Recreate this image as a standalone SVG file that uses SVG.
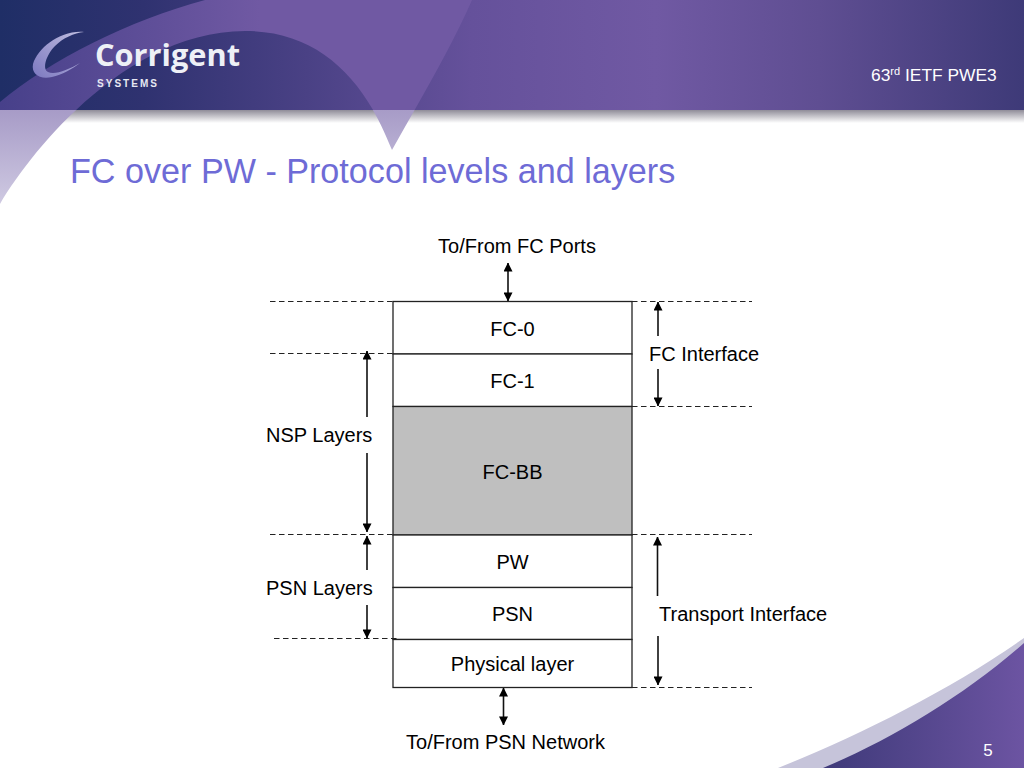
<svg xmlns="http://www.w3.org/2000/svg" width="1024" height="768" viewBox="0 0 1024 768">
<style>
text{font-family:"Liberation Sans",Arial,sans-serif;fill:#000;font-size:20px}
.c{text-anchor:middle}
.box{fill:#fff;stroke:#222;stroke-width:1.3}
.dash{stroke:#222;stroke-width:1.1;stroke-dasharray:5.5 3.5;fill:none}
.arrow{stroke:#111;stroke-width:1.6;fill:none}
</style>
<defs>
<linearGradient id="hdr" x1="0" x2="1024" y1="0" y2="0" gradientUnits="userSpaceOnUse">
<stop offset="0" stop-color="#1f2e66"/><stop offset=".14" stop-color="#2f3270"/><stop offset=".3" stop-color="#4a4185"/><stop offset=".46" stop-color="#65519b"/><stop offset=".64" stop-color="#7059a3"/><stop offset=".8" stop-color="#5f4e92"/><stop offset="1" stop-color="#3e3a78"/>
</linearGradient>
<linearGradient id="swg" x1="0" x2="260" y1="0" y2="0" gradientUnits="userSpaceOnUse">
<stop offset="0" stop-color="#47408a"/><stop offset="1" stop-color="#7059a3"/>
</linearGradient>
<linearGradient id="shadow" x1="0" x2="0" y1="0" y2="1">
<stop offset="0" stop-color="#8f8c98"/><stop offset="1" stop-color="#fff"/>
</linearGradient>
<linearGradient id="pale" x1="0" x2="0" y1="110" y2="205" gradientUnits="userSpaceOnUse">
<stop offset="0" stop-color="#a79bc7"/><stop offset="1" stop-color="#cfcae2"/>
</linearGradient>
<linearGradient id="foot" x1="825" x2="1024" y1="0" y2="0" gradientUnits="userSpaceOnUse">
<stop offset="0" stop-color="#3f3a7a"/><stop offset="1" stop-color="#6c54a2"/>
</linearGradient>
<linearGradient id="cmark" x1="0" x2="1" y1="1" y2="0">
<stop offset="0" stop-color="#7c78c0"/><stop offset="1" stop-color="#c0bee0"/>
</linearGradient>
<clipPath id="hclip"><rect x="0" y="0" width="1024" height="110"/></clipPath>
<path id="sw" d="M205,0C130,20 50,60 0,102L0,204C35,145 130,31 245,31C320,31 365,80 392,150C420,100 450,50 472,0Z"/>
<marker id="ah" viewBox="0 0 10 10" refX="9.5" refY="5" markerWidth="9" markerHeight="9" markerUnits="userSpaceOnUse" orient="auto-start-reverse"><path d="M0,0L10,5L0,10Z" fill="#000"/></marker>
</defs>

<g id="background">
<rect width="1024" height="768" fill="#fff"/>
<rect x="0" y="110" width="1024" height="13" fill="url(#shadow)"/>
<use href="#sw" fill="url(#pale)"/>
<rect width="1024" height="110" fill="url(#hdr)"/>
<use href="#sw" fill="url(#swg)" clip-path="url(#hclip)"/>
<path d="M778,768C860,735 950,690 1024,638L1024,768Z" fill="#c6c4da"/>
<path d="M823,768C890,740 965,695 1024,643L1024,768Z" fill="url(#foot)"/>
</g>

<g id="logo">
<path d="M84,32C60,30 38,48 33,64C31,74 40,80 52,77C62,75 72,69 80,63C68,70 55,75 48,72C42,69 46,55 55,46C63,38 74,33 84,32Z" fill="url(#cmark)"/>
<text x="95" y="66" style="font-size:30px;font-weight:bold;fill:#eef0f6;font-family:'Open Sans','Liberation Sans',sans-serif" textLength="145" lengthAdjust="spacingAndGlyphs">Corrigent</text>
<text x="97" y="87" style="font-size:10px;font-weight:bold;fill:#e6e8f2" textLength="60">SYSTEMS</text>
</g>

<g id="header-text">
<text x="871" y="81" style="font-size:17.400px;fill:#fff">63<tspan dy="-6" style="font-size:11px">rd</tspan><tspan dy="6"> IETF PWE3</tspan></text>
<text x="70" y="183" style="font-size:34.150px;fill:#6e6bd6">FC over PW - Protocol levels and layers</text>
<text x="988" y="756" class="c" style="font-size:17px;fill:#fff">5</text>
</g>

<g id="fc-0"><rect class="box" x="393" y="301.500" width="239" height="52.500"/><text class="c" x="512.500" y="336">FC-0</text></g>
<g id="fc-1"><rect class="box" x="393" y="354" width="239" height="52.500"/><text class="c" x="512.500" y="388">FC-1</text></g>
<g id="fc-bb"><rect x="393" y="406.500" width="239" height="128.500" fill="#bfbfbf" stroke="#222" stroke-width="1.300"/><text class="c" x="512.500" y="479">FC-BB</text></g>
<g id="pw"><rect class="box" x="393" y="535" width="239" height="52.500"/><text class="c" x="512.500" y="569">PW</text></g>
<g id="psn"><rect class="box" x="393" y="587.500" width="239" height="52"/><text class="c" x="512.500" y="621">PSN</text></g>
<g id="physical-layer"><rect class="box" x="393" y="639.500" width="239" height="48"/><text class="c" x="512.500" y="671">Physical layer</text></g>

<g id="connectors">
<path class="dash" d="M270,301.500H393M270,353.500H393M270,534.500H393M274,638.500H397"/>
<path class="dash" d="M632,301.500H752M632,406.500H752M632,534.500H752M632,687.500H752"/>
<path class="arrow" d="M508,263V301" marker-start="url(#ah)" marker-end="url(#ah)"/>
<path class="arrow" d="M503.500,688V725" marker-start="url(#ah)" marker-end="url(#ah)"/>
<path class="arrow" d="M367,417V351" marker-end="url(#ah)"/>
<path class="arrow" d="M367,453V532" marker-end="url(#ah)"/>
<path class="arrow" d="M367,570V536" marker-end="url(#ah)"/>
<path class="arrow" d="M367,605V638" marker-end="url(#ah)"/>
<path class="arrow" d="M658,336V302" marker-end="url(#ah)"/>
<path class="arrow" d="M658,369V406" marker-end="url(#ah)"/>
<path class="arrow" d="M657.500,596V537" marker-end="url(#ah)"/>
<path class="arrow" d="M658,636V685" marker-end="url(#ah)"/>
</g>

<g id="labels">
<text class="c" x="517" y="253">To/From FC Ports</text>
<text class="c" x="505.500" y="749">To/From PSN Network</text>
<text x="266" y="442">NSP Layers</text>
<text x="266" y="595">PSN Layers</text>
<text x="649" y="361">FC Interface</text>
<text x="659" y="621">Transport Interface</text>
</g>
</svg>
